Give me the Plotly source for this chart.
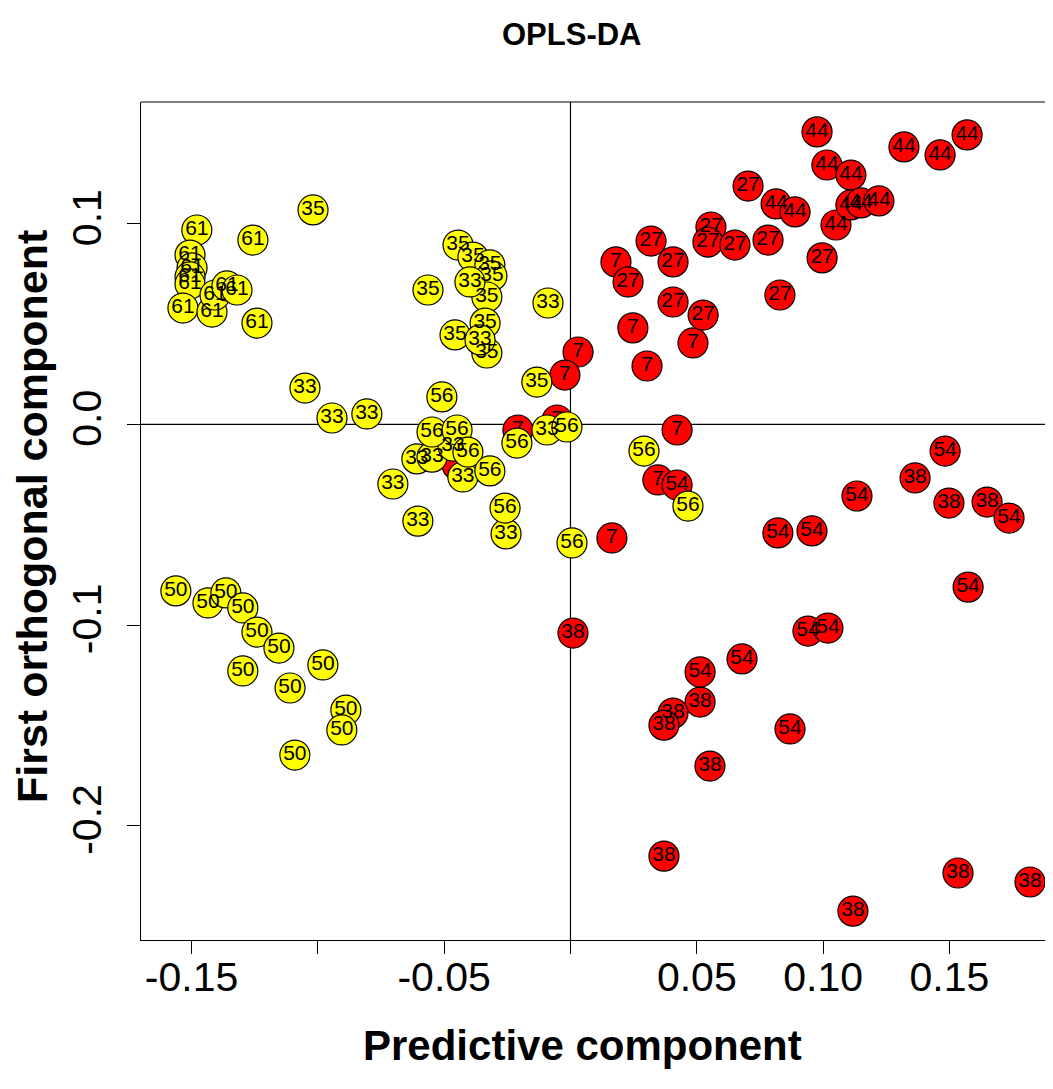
import plotly.graph_objects as go

# ---- data (predictive component, first orthogonal component) per group ----
g61_x = [-0.1479, -0.1506, -0.1498, -0.1506, -0.1506, -0.1534, -0.1419, -0.1407, -0.1360, -0.1320, -0.1257, -0.1241]
g61_y = [0.0969, 0.0844, 0.0780, 0.0735, 0.0700, 0.0580, 0.0560, 0.0645, 0.0690, 0.0670, 0.0919, 0.0505]

g35_x = [-0.1019, -0.0445, -0.0386, -0.0319, -0.0311, -0.0564, -0.0331, -0.0338, -0.0457, -0.0331, -0.0133]
g35_y = [0.1069, 0.0894, 0.0834, 0.0795, 0.0740, 0.0670, 0.0635, 0.0505, 0.0446, 0.0356, 0.0211]

g33_x = [-0.0398, -0.0089, -0.0358, -0.1051, -0.0944, -0.0806, -0.0608, -0.0548, -0.0465, -0.0426, -0.0703, -0.0604, -0.0255, -0.0093]
g33_y = [0.0710, 0.0605, 0.0421, 0.0181, 0.0032, 0.0052, -0.0172, -0.0163, -0.0108, -0.0262, -0.0297, -0.0482, -0.0546, -0.0028]

g56_x = [-0.0509, -0.0548, -0.0449, -0.0406, -0.0319, -0.0259, -0.0212, -0.0014, 0.0006, 0.0291, 0.0465]
g56_y = [0.0137, -0.0038, -0.0028, -0.0138, -0.0232, -0.0417, -0.0093, -0.0013, -0.0591, -0.0133, -0.0407]

g50_x = [-0.1562, -0.1435, -0.1364, -0.1297, -0.1241, -0.1154, -0.1297, -0.0980, -0.1110, -0.0889, -0.0905, -0.1091]
g50_y = [-0.0830, -0.0890, -0.0840, -0.0915, -0.1035, -0.1115, -0.1229, -0.1199, -0.1314, -0.1424, -0.1523, -0.1648]

g7_x = [0.0180, 0.0247, 0.0485, 0.0303, 0.0030, -0.0022, -0.0208, -0.0053, -0.0449, 0.0422, 0.0346, 0.0164]
g7_y = [0.0810, 0.0481, 0.0406, 0.0291, 0.0361, 0.0246, -0.0028, 0.0022, -0.0202, -0.0028, -0.0277, -0.0566]

g27_x = [0.0228, 0.0319, 0.0406, 0.0406, 0.0525, 0.0556, 0.0544, 0.0651, 0.0782, 0.0703, 0.0829, 0.0996]
g27_y = [0.0710, 0.0914, 0.0810, 0.0610, 0.0545, 0.0984, 0.0909, 0.0894, 0.0919, 0.1188, 0.0645, 0.0830]

g44_x = [0.0976, 0.1015, 0.1110, 0.0814, 0.0889, 0.1051, 0.1110, 0.1150, 0.1221, 0.1320, 0.1463, 0.1570]
g44_y = [0.1458, 0.1293, 0.1243, 0.1099, 0.1059, 0.0994, 0.1094, 0.1104, 0.1114, 0.1383, 0.1343, 0.1443]

g38_x = [0.1364, 0.1498, 0.1649, 0.0010, 0.0513, 0.0406, 0.0370, 0.0552, 0.0370, 0.1118, 0.1534, 0.1819]
g38_y = [-0.0267, -0.0392, -0.0387, -0.1040, -0.1384, -0.1439, -0.1499, -0.1703, -0.2152, -0.2426, -0.2236, -0.2281]

g54_x = [0.1483, 0.1134, 0.1736, 0.0821, 0.0956, 0.1574, 0.0513, 0.0679, 0.0940, 0.1019, 0.0869, 0.0422]
g54_y = [-0.0133, -0.0357, -0.0467, -0.0541, -0.0531, -0.0811, -0.1234, -0.1169, -0.1030, -0.1015, -0.1518, -0.0302]

red_groups = [("7", g7_x, g7_y), ("27", g27_x, g27_y), ("44", g44_x, g44_y),
              ("38", g38_x, g38_y), ("54", g54_x, g54_y)]
yellow_groups = [("61", g61_x, g61_y), ("35", g35_x, g35_y), ("33", g33_x, g33_y),
                 ("56", g56_x, g56_y), ("50", g50_x, g50_y)]

x_ticks = [-0.15, -0.10, -0.05, 0.0, 0.05, 0.10, 0.15]
x_ticktext = ["-0.15", "", "-0.05", "", "0.05", "0.10", "0.15"]
y_ticks = [-0.2, -0.1, 0.0, 0.1]
y_ticktext = ["-0.2", "-0.1", "0.0", "0.1"]

FONT = "Liberation Sans, Arial, sans-serif"

def build(groups):
    xs, ys, ts = [], [], []
    for lab, gx, gy in groups:
        xs += gx
        ys += gy
        ts += [lab] * len(gx)
    return xs, ys, ts

fig = go.Figure()
for groups, col in [(red_groups, "#FF0000"), (yellow_groups, "#FFFF00")]:
    xs, ys, ts = build(groups)
    fig.add_trace(go.Scatter(
        x=xs, y=ys, text=ts, mode="markers+text", textposition="middle center",
        textfont=dict(family=FONT, size=21, color="black"),
        marker=dict(size=30, color=col, line=dict(color="black", width=1.2)),
        showlegend=False, hoverinfo="skip", cliponaxis=False))

fig.update_layout(
    width=1045, height=1081,
    margin=dict(l=133, r=0, t=94, b=149),
    paper_bgcolor="white", plot_bgcolor="white",
    font=dict(family=FONT, color="black"),
    xaxis=dict(range=[-0.1700, 0.1910], tickvals=x_ticks, ticktext=x_ticktext,
               showgrid=False, zeroline=False, showline=True, linecolor="black", linewidth=1.2,
               ticks="outside", ticklen=13, tickcolor="black", tickwidth=1.2,
               ticklabelstandoff=-12,
               tickfont=dict(family=FONT, size=41, color="black")),
    yaxis=dict(range=[-0.2570, 0.1607], tickvals=y_ticks, ticktext=y_ticktext, tickangle=-90,
               showgrid=False, zeroline=False, showline=True, linecolor="black", linewidth=1.2,
               ticks="outside", ticklen=13, tickcolor="black", tickwidth=1.2,
               ticklabelstandoff=10,
               tickfont=dict(family=FONT, size=41, color="black")),
    shapes=[
        dict(type="line", xref="paper", yref="paper", x0=0, x1=1, y0=1, y1=1,
             line=dict(color="black", width=1.2)),
        dict(type="line", xref="x", yref="paper", x0=0, x1=0, y0=0, y1=1,
             line=dict(color="black", width=1.2), layer="below"),
        dict(type="line", xref="paper", yref="y", x0=0, x1=1, y0=0, y1=0,
             line=dict(color="black", width=1.2), layer="below"),
    ],
    annotations=[
        dict(text="<b>OPLS-DA</b>", xref="paper", yref="paper", x=0.4726, y=1.08,
             xanchor="center", yanchor="middle", showarrow=False,
             font=dict(family=FONT, size=31, color="black")),
        dict(text="<b>Predictive component</b>", xref="paper", yref="paper", x=0.4836, y=-0.1253,
             xanchor="center", yanchor="middle", showarrow=False,
             font=dict(family=FONT, size=42, color="black")),
        dict(text="<b>First orthogonal component</b>", xref="paper", yref="paper", x=-0.1195, y=0.5048,
             xanchor="center", yanchor="middle", showarrow=False, textangle=-90,
             font=dict(family=FONT, size=43, color="black")),
    ],
)

fig.write_html("out.html")
